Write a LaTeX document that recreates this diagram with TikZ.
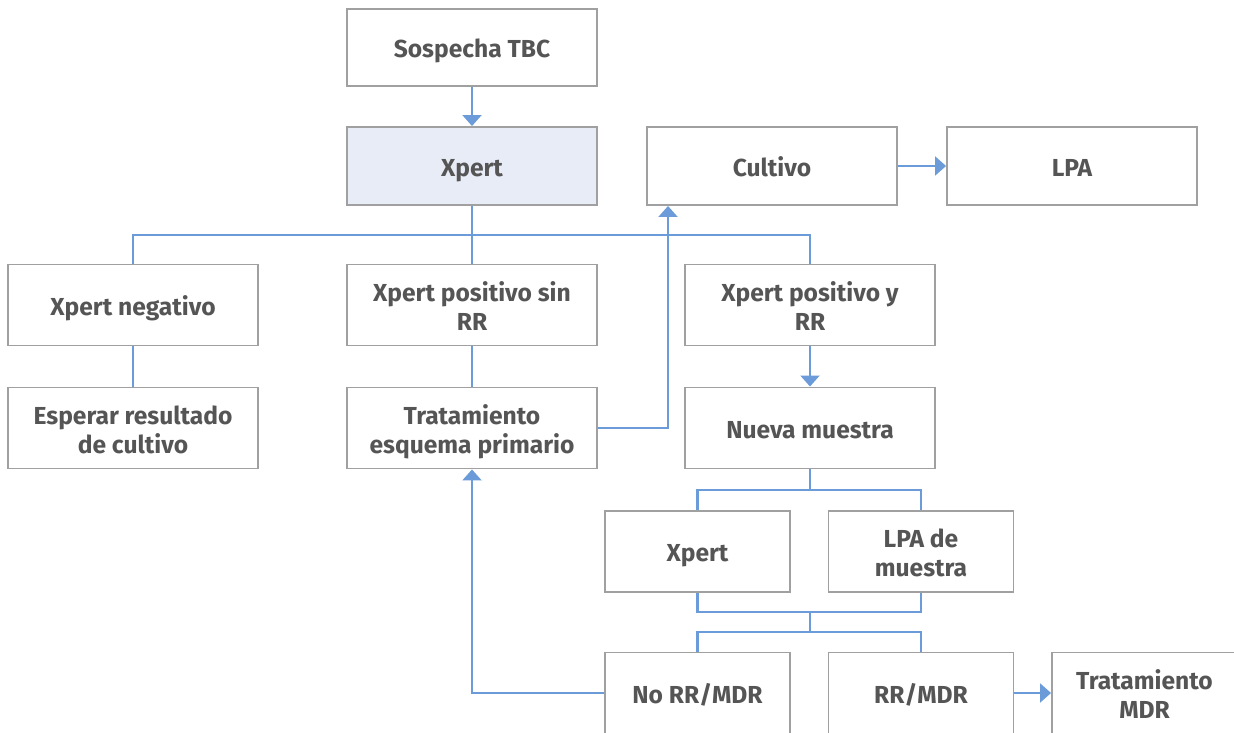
\documentclass[tikz,border=0pt]{standalone}
\usepackage{fontspec}
\setmainfont{Fira Sans}
\usetikzlibrary{arrows.meta}
\definecolor{boxgray}{RGB}{160,160,160}
\definecolor{textgray}{RGB}{85,85,85}
\definecolor{linkblue}{RGB}{108,155,217}
\definecolor{paleblue}{RGB}{232,236,247}

\begin{document}
\begin{tikzpicture}[x=0.02cm,y=-0.02cm,
		box/.style={draw=boxgray,line width=1.1pt,fill=white,text=textgray,align=center,
			font=\fontsize{14}{16.5}\selectfont\bfseries,minimum width=5cm,minimum height=1.62cm,inner sep=0pt,
			execute at begin node={\rule{0pt}{15.8pt}},execute at end node={\rule[-4pt]{0pt}{4pt}}},
		twolines/.style={execute at begin node={\rule{0pt}{32.5pt}}},
		smallbox/.style={box,minimum width=3.7cm},
		link/.style={linkblue,line width=1.2pt},
		arr/.style={link,-{Triangle[width=0.38cm,length=0.22cm]}}]
		% border
		\useasboundingbox (0,0) rectangle (1234,733);
		\clip (0,0) rectangle (1234,733);
		% first row
		\node[box,minimum height=1.54cm] (tbc) at (472,47.5) {Sospecha TBC};
		\node[box,minimum height=1.56cm,fill=paleblue] (xpert) at (472,166) {Xpert};
		\node[box,minimum height=1.56cm] (cultivo) at (772,166) {Cultivo};
		\node[box,minimum height=1.56cm] (lpa) at (1072,166) {LPA};
		% results of xpert
		\node[box] (neg) at (133,305) {Xpert negativo};
		\node[box,twolines] (possin) at (472,305) {Xpert positivo sin\\RR};
		\node[box,twolines] (posrr) at (810,305) {Xpert positivo y\\RR};
		% next steps
		\node[box,twolines] (esperar) at (133,428) {Esperar resultado\\de cultivo};
		\node[box,twolines] (trat) at (472,428) {Tratamiento\\esquema primario};
		\node[box] (nueva) at (810,428) {Nueva muestra};
		% new sample tests
		\node[smallbox] (xpertb) at (697.5,551.5) {Xpert};
		\node[smallbox,twolines] (lpamu) at (921,551.5) {LPA de\\muestra};
		% outcomes (cut at the bottom)
		\node[smallbox] (normdr) at (697.5,693) {No RR/MDR};
		\node[smallbox] (rrmdr) at (921,693) {RR/MDR};
		\node[smallbox,twolines] (tratmdr) at (1144.5,693) {Tratamiento\\MDR};
		% junction points
		\coordinate (ja) at (472,235);
		\coordinate (jb) at (810,490);
		\coordinate (jc) at (810,612);
		\coordinate (jd) at (810,632);
		\coordinate (cin) at (668,206);
		% connectors
		\draw[arr] (tbc) -- (xpert);
		\draw[link] (xpert) -- (ja);
		\draw[link] (neg.north) |- (ja) -| (posrr.north);
		\draw[link] (ja) -- (possin);
		\draw[link] (neg) -- (esperar);
		\draw[link] (possin) -- (trat);
		\draw[arr] (trat.east) -| (cin);
		\draw[arr] (cultivo) -- (lpa);
		\draw[arr] (posrr) -- (nueva);
		\draw[link] (nueva) -- (jb);
		\draw[link] (xpertb.north) |- (jb) -| (lpamu.north);
		\draw[link] (xpertb.south) |- (jc) -| (lpamu.south);
		\draw[link] (jc) -- (jd);
		\draw[link] (normdr.north) |- (jd) -| (rrmdr.north);
		\draw[arr] (normdr.west) -| (trat.south);
		\draw[arr] (rrmdr) -- (tratmdr);
	\end{tikzpicture}
\end{document}
